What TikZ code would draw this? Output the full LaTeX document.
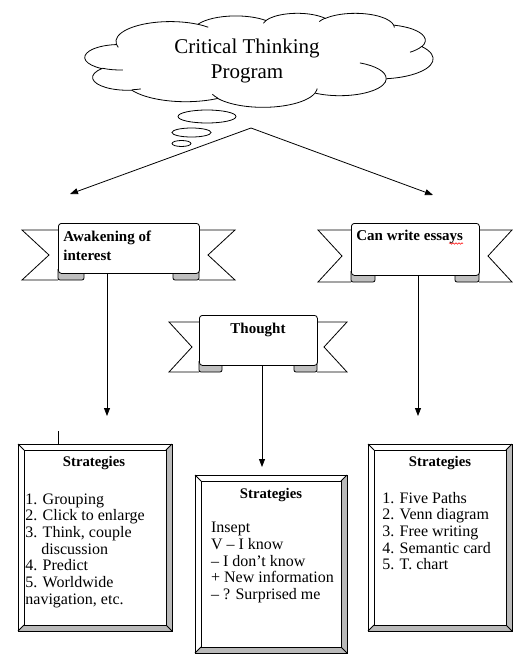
\documentclass[tikz,border=0pt]{standalone}
\usepackage{fontspec}
\setmainfont{Liberation Serif}
\usetikzlibrary{arrows.meta,decorations.pathmorphing}

\newcommand\carc[4]{arc[x radius={#1*0.80556pt}, y radius={#2*0.217593pt}, start angle={-pang(#1,#2,#3)}, end angle={-pang(#1,#2,#3+#4)}]}
\newcommand\wings[7]{%
  \draw[fill=white] (#1,#2+7) -- ({#1-#5},#2+7) -- ({#1-#5+#6},{(#2+#4)/2+7}) -- ({#1-#5},#4+7) -- (#1,#4+7);
  \draw[fill=white] (#3,#2+7) -- ({#3+#5},#2+7) -- ({#3+#5-#6},{(#2+#4)/2+7}) -- ({#3+#5},#4+7) -- (#3,#4+7);
  \draw[fill=gray!50, rounded corners=2pt] (#1,#4-4) -- (#1,#4+7) -- ({#1+#7},#4+7) -- ({#1+#7},#4-4);
  \draw[fill=gray!50, rounded corners=2pt] (#3,#4-4) -- (#3,#4+7) -- ({#3-#7},#4+7) -- ({#3-#7},#4-4);
}
\newcommand\bevel[1]{%
  \fill[gray!55] (#1.north east) -- (#1.south east) -- ([shift={(-6,-6)}]#1.south east) -- ([shift={(-6,6)}]#1.north east) -- cycle;
  \fill[gray!55] (#1.south west) -- (#1.south east) -- ([shift={(-6,-6)}]#1.south east) -- ([shift={(6,-6)}]#1.south west) -- cycle;
  \draw (#1.north west) rectangle (#1.south east);
  \draw ([shift={(6,6)}]#1.north west) rectangle ([shift={(-6,-6)}]#1.south east);
  \draw (#1.north west) -- ++(6,6) (#1.north east) -- ++(-6,6) (#1.south west) -- ++(6,-6) (#1.south east) -- ++(-6,-6);
}

\begin{document}
\begin{tikzpicture}[x=1pt, y=-1pt, line width=0.8pt,
    declare function={pang(\pw,\ph,\pa)=atan2(\pw*sin(\pa),\ph*cos(\pa))+360*round((\pa-atan2(\pw*sin(\pa),\ph*cos(\pa)))/360);},
    ribbon/.style={draw, fill=white, rounded corners=3pt, inner sep=0pt, anchor=north west},
    bevelbox/.style={inner sep=0pt, outer sep=0pt, anchor=north west},
    tag/.style={font=\fontsize{15}{19}\selectfont\bfseries, align=left, anchor=base west, inner sep=0pt},
    head/.style={font=\fontsize{14.7}{17}\selectfont\bfseries, anchor=base, inner sep=0pt},
    list/.style={font=\fontsize{16}{16.7}\selectfont, align=left, anchor=base west, inner sep=0pt},
    arr/.style={-{Triangle[length=8pt,width=6pt]}}]
\path[use as bounding box, fill=white] (0,0) rectangle (523,664);

\begin{scope}[shift={(85,13)}, x=0.80556pt, y=-0.217593pt]
  \draw[fill=white] (39,143.7) \carc{67.53}{91.9}{-190.4875}{123.7805}
    \carc{53.33}{72.67}{-144.1024}{89.9452}
    \carc{43.65}{59.45}{-145.8079}{99.723}
    \carc{48.57}{65.95}{-130.9861}{117.2417}
    \carc{53.33}{72.73}{-78.7089}{109.0269}
    \carc{67.75}{92.2}{-46.2673}{130.269}
    \carc{57.85}{78.67}{0.625}{114.0333}
    \carc{67.52}{92.15}{22.4516}{115.1726}
    \carc{77.2}{105.43}{66.2426}{75.711}
    \carc{43.6}{59.18}{-274.9421}{146.7356}
    \carc{43.45}{59.45}{-246.8285}{152.5189} -- cycle;
  \draw (46.93,261.77) \carc{43.45}{59.45}{86.742}{26.4295}
    (69.28,348.99) \carc{43.6}{59.18}{73.6105}{11.4475}
    (164.78,390.9) \carc{67.52}{92.15}{137.6242}{14.0811}
    (288.27,347.51) \carc{67.52}{92.15}{6.4533}{15.9984}
    (341.29,229.54) \carc{57.85}{78.67}{-70.2924}{70.9174}
    (417.98,153.54) \carc{53.33}{72.73}{30.318}{27.7515}
    (383.24,54.26) \carc{48.57}{65.95}{-13.7443}{14.8589}
    (290.78,39.52) \carc{48.57}{65.95}{-149.1815}{18.1954}
    (221.41,47.2) \carc{43.65}{59.45}{-163.4943}{17.6864}
    (140,51.92) \carc{67.53}{91.9}{-66.707}{12.3194}
    (41.27,157.89) \carc{67.53}{91.9}{157.6544}{11.8582};
\end{scope}
\node[font=\fontsize{21}{25}\selectfont, align=center, anchor=base, inner sep=0pt] (title) at (247,78) {Critical Thinking\\Program};
\draw (207,116.5) ellipse [x radius=29pt, y radius=6.5pt];
\draw (191.5,132.5) ellipse [x radius=19.5pt, y radius=4.5pt];
\draw (181.5,143.5) ellipse [x radius=9.5pt, y radius=3pt];

\coordinate (apex) at (251,128);
\coordinate (tl) at (70,194);
\coordinate (tr) at (433,195);
\draw[arr] (apex) -- (tl);
\draw[arr] (apex) -- (tr);

\wings{58}{223}{199}{273}{36}{27}{26}
\node[ribbon, minimum width=141pt, minimum height=50pt] (aw) at (58,223) {};
\node[tag] (awt) at (63,260) {Awakening of\\interest};
\wings{351}{223}{479}{275}{33}{24}{24}
\node[ribbon, minimum width=128pt, minimum height=52pt] (cw) at (351,223) {};
\node[tag] (cwt) at (356,240.7) {Can write essays};
\draw[red, line width=0.5pt, decorate, decoration={snake, amplitude=0.8pt, segment length=3pt}] (449,243.5) -- (463,243.5);
\wings{199}{315}{317}{365}{30}{23}{23}
\node[ribbon, minimum width=118pt, minimum height=50pt] (th) at (199,315) {};
\node[tag, anchor=base] (tht) at (258,333) {Thought};

\node[bevelbox, minimum width=154pt, minimum height=187pt] (s1) at (18,444) {};
\node[bevelbox, minimum width=152pt, minimum height=178pt] (s2) at (195,475) {};
\node[bevelbox, minimum width=144pt, minimum height=187pt] (s3) at (368,444) {};
\bevel{s1}
\bevel{s2}
\bevel{s3}

\coordinate (awend) at (107,416);
\coordinate (thend) at (262,467);
\coordinate (cwend) at (418,416);
\draw[arr] (aw.south -| awend) -- (awend);
\draw[arr] (th.south -| thend) -- (thend);
\draw[arr] (cw.south -| cwend) -- (cwend);
\coordinate (stub) at (58,431);
\draw (stub) -- (stub |- s1.north);

\node[head] (h1) at (94,466.7) {Strategies};
\node[head] (h2) at (271,498) {Strategies};
\node[head] (h3) at (440,466.7) {Strategies};
\node[list] (l1) at (25,604.2) {1. Grouping\\2. Click to enlarge\\3. Think, couple\\\hspace*{16pt}discussion\\4. Predict\\5. Worldwide\\navigation, etc.};
\node[list] (l2) at (210.7,599.5) {Insept\\V – I know\\– I don’t know\\+ New information\\– ? Surprised me};
\node[list] (l3) at (382,569.8) {1. Five Paths\\2. Venn diagram\\3. Free writing\\4. Semantic card\\5. T. chart};
\end{tikzpicture}
\end{document}
